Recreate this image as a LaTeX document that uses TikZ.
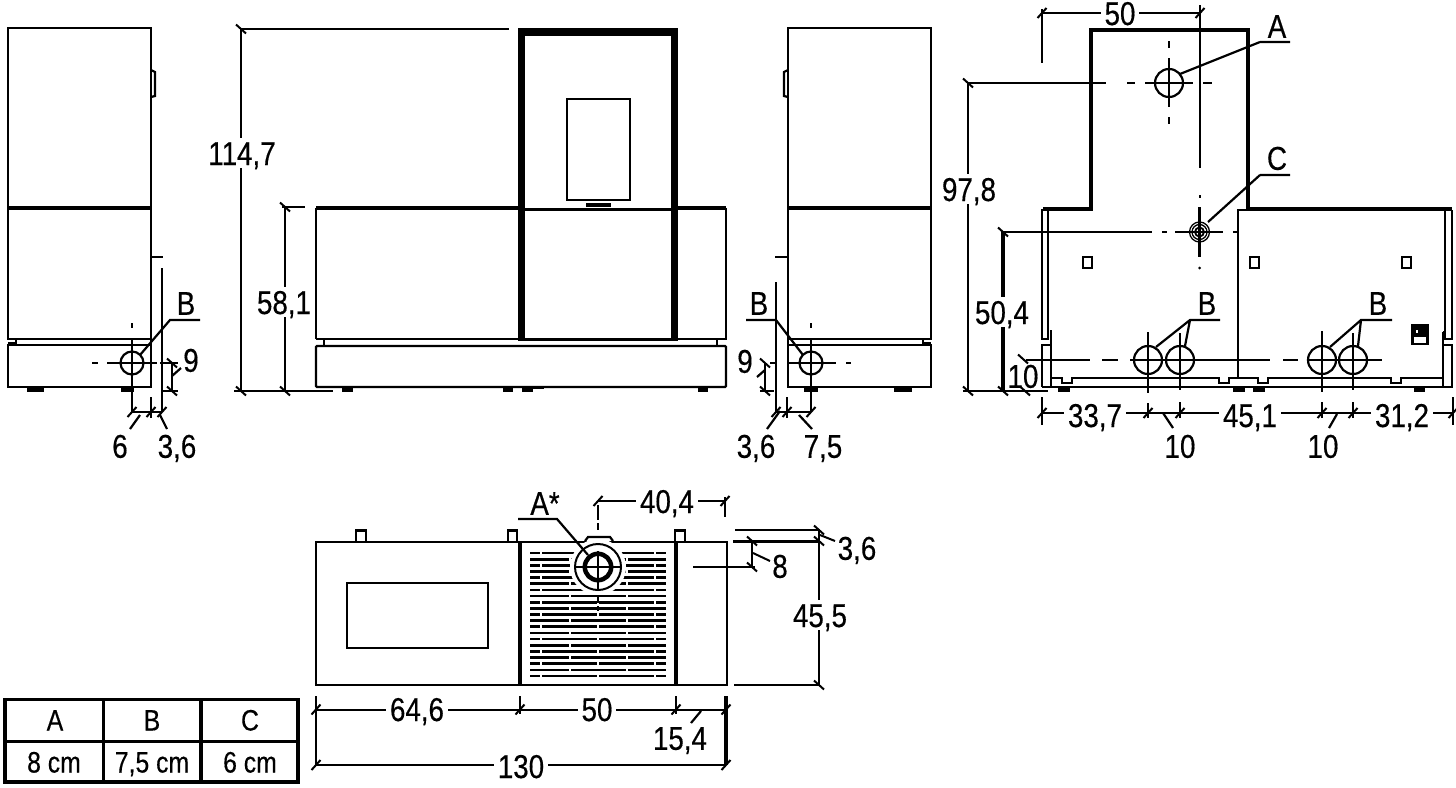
\documentclass[tikz,border=0pt]{standalone}
\usepackage{fontspec}
\setmainfont[FakeStretch=0.84,FakeBold=0.35]{Liberation Sans}
\tikzset{
  fine/.style={line width=2pt},
  bold/.style={line width=3.4pt},
  heavy/.style={line width=6.5pt},
  part/.style={line width=2.2pt},
  lab/.style={inner sep=0pt,font=\fontsize{33}{33}\selectfont,text height=23.6pt,text depth=0pt},
  dimlab/.style={lab,fill=white,inner xsep=4pt,text height=27pt,text depth=3pt},
  tab/.style={inner sep=0pt,font=\fontsize{29.5}{30}\selectfont,text height=21pt,text depth=0pt},
}
\newcommand{\tickV}[2]{\draw[fine] (#1-5,#2-4.5) -- (#1+5,#2+4.5);}
\newcommand{\tickH}[2]{\draw[fine] (#1-4.5,#2+5) -- (#1+4.5,#2-5);}
\newcommand{\foot}[2]{\fill (#1,388) rectangle (#2,391.5);}
\newcommand{\notch}[2]{\fill[white] (#1+1,376) rectangle (#2-1,380);\draw[fine] (#1,378) -- (#1,383) -- (#2,383) -- (#2,378);}
\begin{document}
\begin{tikzpicture}[x=1pt,y=-1pt,line width=2pt]
\useasboundingbox (0,0) rectangle (1456,787);
% ---------- left side view
\draw[part] (8,28) rectangle (151,339);
\draw[bold] (8,208) -- (151,208);
\draw[part] (151,70) -- (155,72) -- (155,96) -- (151,97);
\draw[part] (8,345) -- (151,345) -- (151,387) -- (8,387) -- cycle;
\draw[part] (151,339) -- (151,345);
\draw[fine] (16,339) -- (16,345) (8,343) -- (16,343);
\foot{27}{44}\foot{121}{134}
\draw[part] (132,363) circle (11.5);
\draw[fine] (92,363) -- (98,363) (107,363) -- (157,363) (160,363) -- (178,363);
\draw[part] (132,323) -- (132,328) (132,339) -- (132,412);
\draw[part] (152,257) -- (163,257);
\draw[part] (162,268) -- (162,412) (151,397) -- (151,418);
\draw[fine] (132,412) -- (162,412) (172,363) -- (172,391) (162,391) -- (178,391);
\tickH{132}{412}\tickH{151}{412}\tickH{162}{412}
\tickV{172}{363}\tickV{172}{391}
\draw[part] (140,415) -- (130,429) (160,415) -- (167,429) (172,376) -- (181,368);
\draw[part] (200,320) -- (170,320) -- (140,355);
% ---------- front view
\draw[part] (316,339) -- (316,208) (726,208) -- (726,339) -- (316,339);
\draw[bold] (316,208) -- (520,208) (676,208) -- (726,208);
\draw[part] (522,209.5) -- (674,209.5);
\draw[heavy] (521.5,28) -- (521.5,341) (674.5,28) -- (674.5,341);
\fill (518,28) rectangle (678,32.5);
\draw[part] (525,34.5) -- (671,34.5);
\draw[bold] (518,339.5) -- (678,339.5);
\draw[part] (567,99) rectangle (630,200);
\fill (586,202.5) rectangle (611,207);
\draw[part,rounded corners=1pt] (316,346) rectangle (726,387);
\draw[fine] (324,339) -- (324,346) (717,339) -- (717,346);
\foot{342}{353}\foot{503}{513}\foot{522}{533}\foot{698}{708}
\draw[fine] (522,388) -- (544,388);
\draw[part] (241,29) -- (241,391);
\draw[part] (241,29) -- (509,29);
\draw[fine] (234,391) -- (333,391);
\draw[fine] (285,207) -- (285,391) (282,207) -- (305,207);
\tickV{241}{29}\tickV{241}{391}\tickV{285}{207}\tickV{285}{391}
% ---------- right side view
\draw[part] (788,28) rectangle (931,339);
\draw[bold] (788,208) -- (931,208);
\draw[part] (788,70) -- (784,72) -- (784,96) -- (788,97);
\draw[part] (788,345) -- (931,345) -- (931,387) -- (788,387) -- cycle;
\draw[part] (788,339) -- (788,345);
\draw[fine] (923,339) -- (923,345) (923,343) -- (931,343);
\foot{804}{818}\foot{894}{912}
\draw[part] (811,363) circle (11.5);
\draw[fine] (770,363) -- (777,363) (787,363) -- (836,363) (846,363) -- (851,363);
\draw[part] (811,323) -- (811,328) (811,339) -- (811,412);
\draw[part] (775,257) -- (787,257);
\draw[part] (776,282) -- (776,412) (787,397) -- (787,418);
\draw[fine] (776,412) -- (811,412) (765,363) -- (765,391) (760,391) -- (774,391);
\tickH{776}{412}\tickH{787}{412}\tickH{811}{412}
\tickV{765}{363}\tickV{765}{391}
\draw[part] (780,411) -- (767,429) (799,415) -- (812,429) (765,370) -- (757,377);
\draw[part] (746,320) -- (776,320) -- (803,355);
% ---------- back view
\draw[bold] (1043,209) -- (1091,209) -- (1091,30) -- (1248,30) -- (1248,209) -- (1452,209);
\draw[part] (1042,209) -- (1042,339) -- (1048,339) -- (1048,210);
\draw[part] (1445,210) -- (1445,332) -- (1443,332) (1445,332) -- (1445,339) -- (1452,339) -- (1452,210);
\draw[part] (1248,210) -- (1238,210) -- (1238,378);
\draw[part] (1042,387) -- (1042,345) -- (1051,345) (1051,330) -- (1051,387);
\draw[part] (1443,332) -- (1443,387) (1443,345) -- (1452,345) -- (1452,387) -- (1042,387);
\draw[fine] (1051,378) -- (1443,378);
\notch{1062}{1072}\notch{1219}{1229}\notch{1258}{1268}\notch{1391}{1401}
\foot{1058}{1070}\foot{1233}{1245}\foot{1253}{1265}\foot{1414}{1425}
\draw[fine] (1083,257) rectangle (1092,268) (1250,257) rectangle (1259,268) (1402,257) rectangle (1411,268);
\draw[part] (1412.5,325) rectangle (1427.5,344);
\fill (1412,325) rectangle (1428,337);
\fill[white] (1416,330) rectangle (1418,333);
\foreach \cx in {1148,1180,1322,1353}{\draw[part] (\cx,360) circle (14);}
\draw[fine] (1026,360) -- (1090,360) (1102,360) -- (1118,360) (1130,360) -- (1270,360) (1283,360) -- (1298,360) (1308,360) -- (1382,360);
\draw[part] (1148,332) -- (1148,393) (1148,403) -- (1148,418);
\draw[fine] (1180,333) -- (1180,390) (1180,402) -- (1180,418);
\draw[fine] (1322,331) -- (1322,392) (1322,402) -- (1322,418);
\draw[fine] (1353,333) -- (1353,390) (1353,402) -- (1353,418);
\draw[part] (1042,397) -- (1042,425) (1453,397) -- (1453,425);
\draw[fine] (1042,413) -- (1453,413);
\foreach \tx in {1042,1148,1180,1322,1353,1453}{\tickH{\tx}{413}}
\draw[part] (1163,413) -- (1173,428) (1337,414) -- (1329,428);
\draw[part] (1220,320) -- (1190,320) -- (1156,347) (1190,320) -- (1185,346);
\draw[part] (1392,320) -- (1361,320) -- (1330,347) (1361,320) -- (1358,346);
\draw[part] (1169,83) circle (14);
\draw[fine] (968,83) -- (1106,83) (1127,83) -- (1135,83) (1145,83) -- (1193,83) (1203,83) -- (1212,83);
\draw[part] (1169,41) -- (1169,48) (1169,58) -- (1169,107) (1169,117) -- (1169,124);
\draw[part] (1260,42) -- (1290,42) (1260,42) -- (1180,74);
\draw[fine] (1042,13) -- (1200,13);
\draw[part] (1042,9) -- (1042,63);
\draw[part] (1200,5) -- (1200,168) (1200,195) -- (1200,198) (1199.5,207) -- (1199.5,257);
\fill (1199.5,268) circle (1.5);
\draw[line width=1.3pt] (1199.5,232) circle (10) (1199.5,232) circle (7.5);
\fill[black,even odd rule] (1199.5,232) circle (5.5) circle (3.5);
\tickH{1042}{13}\tickH{1200}{13}
\draw[fine] (1003,232) -- (1152,232) (1162,232) -- (1167,232) (1175,232) -- (1223,232) (1233,232) -- (1238,232);
\draw[part] (1260,175) -- (1290,175) (1260,175) -- (1208,222);
\draw[part] (968,83) -- (968,391);
\draw[bold] (1003,232) -- (1003,391);
\draw[fine] (963,391) -- (1048,391);
\tickV{968}{83}\tickV{968}{391}\tickV{1003}{232}\tickV{1003}{391}\tickV{1023}{359}\tickV{1025}{391}
% ---------- plan view
\draw[part] (316,542) rectangle (727,685);
\draw[part] (347,583) rectangle (488,648);
\draw[line width=4pt] (520,542) -- (520,685) (676,542) -- (676,685);
\draw[part] (356,542) -- (356,530.5) -- (366,530.5) -- (366,542);
\draw[part] (508,542) -- (508,530.5) -- (517,530.5) -- (517,542);
\draw[part] (675,542) -- (675,530.5) -- (685,530.5) -- (685,542);
\foreach \i in {0,...,20}{
  \pgfmathsetmacro{\yy}{553+6.15*\i}
  \draw[line width=2.7pt] (530,\yy) -- (666,\yy);
  \ifodd\i
    \draw[white,line width=1.2pt] (570,\yy-2) -- (570,\yy+2) (627,\yy-2) -- (627,\yy+2);
  \else
    \draw[white,line width=1.2pt] (541,\yy-2) -- (541,\yy+2) (598,\yy-2) -- (598,\yy+2) (655,\yy-2) -- (655,\yy+2);
  \fi
}
\fill[white] (598,567) circle (28);
\draw[part] (585,541) -- (588,537) -- (610,537) -- (613,541);
\draw[fine] (598,567) circle (23);
\draw[line width=4.5pt] (598,567) circle (13.2);
\draw[fine] (575,567) -- (622,567) (598,551) -- (598,590);
\draw[part] (598,505) -- (598,520) (598,523) -- (598,530) (598,595) -- (598,603) (598,606) -- (598,611);
\draw[part] (518,519) -- (557,519) -- (588,555);
\draw[fine] (598,501) -- (725,501);
\draw[part] (725,497) -- (725,517);
\tickH{598}{501}\tickH{725}{501}
\draw[fine] (735,530) -- (820,530);
\draw[bold] (733,541.5) -- (820,541.5);
\draw[fine] (693,567) -- (755,567) (752,541) -- (752,567) (734,685) -- (820,685);
\draw[part] (819,530) -- (819,685);
\tickV{752}{541}\tickV{752}{567}\tickV{819}{530}\tickV{819}{541}\tickV{819}{685}
\draw[fine] (753,553) -- (770,561) (820,535) -- (835,541);
% plan dims
\draw[part] (316,696) -- (316,765) (520,696) -- (520,714) (676,696) -- (676,714);
\draw[bold] (726,696) -- (726,765);
\draw[fine] (316,709.5) -- (726,709.5) (316,765) -- (726,765);
\foreach \tx in {316,520,676,726}{\tickH{\tx}{709.5}}
\tickH{316}{765}\tickH{726}{765}
\draw[part] (701,711) -- (691,723);
% ---------- table
\draw[bold] (5,699.5) rectangle (298,782);
\draw[bold] (103.5,699.5) -- (103.5,782) (201,699.5) -- (201,782) (5,741.5) -- (298,741.5);
% ---------- labels
\node[lab] (lb1) at (120,446) {6};
\node[lab] (lb2) at (177,446) {3,6};
\node[lab] (lb3) at (191,360) {9};
\node[lab] (lb4) at (186,303) {B};
\node[dimlab] (lb5) at (242,153) {114,7};
\node[dimlab] (lb6) at (284,302) {58,1};
\node[lab] (lb7) at (756,446) {3,6};
\node[lab] (lb8) at (823,446) {7,5};
\node[lab] (lb9) at (745,361) {9};
\node[lab] (lb10) at (759,303) {B};
\node[dimlab] (lb11) at (969,189) {97,8};
\node[dimlab] (lb12) at (1002,312) {50,4};
\node[lab] (lb13) at (1023,376) {10};
\node[dimlab] (lb14) at (1120,13) {50};
\node[lab] (lb15) at (1277,26) {A};
\node[lab] (lb16) at (1277,158) {C};
\node[lab] (lb17) at (1207,303) {B};
\node[lab] (lb18) at (1378,303) {B};
\node[dimlab] (lb19) at (1095,415) {33,7};
\node[dimlab] (lb20) at (1250,415) {45,1};
\node[dimlab] (lb21) at (1402,415) {31,2};
\node[lab] (lb22) at (1180,446) {10};
\node[lab] (lb23) at (1323,446) {10};
\node[lab] (lb24) at (545,503) {A*};
\node[dimlab] (lb25) at (667,501) {40,4};
\node[lab] (lb26) at (780,566) {8};
\node[lab] (lb27) at (857,548) {3,6};
\node[dimlab] (lb28) at (820,615) {45,5};
\node[dimlab] (lb29) at (417,709) {64,6};
\node[dimlab] (lb30) at (597,709) {50};
\node[lab] (lb31) at (680,738) {15,4};
\node[dimlab] (lb32) at (521,766) {130};
\node[tab] (t1) at (55,720) {A};
\node[tab] (t2) at (152,720) {B};
\node[tab] (t3) at (250,720) {C};
\node[tab] (t4) at (54,762) {8 cm};
\node[tab] (t5) at (152,762) {7,5 cm};
\node[tab] (t6) at (250,762) {6 cm};
\end{tikzpicture}
\end{document}
